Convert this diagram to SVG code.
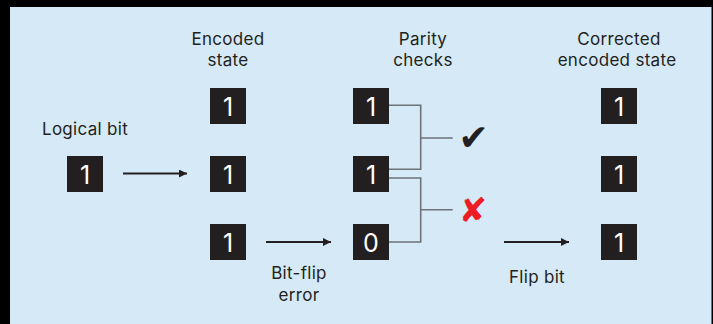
<svg xmlns="http://www.w3.org/2000/svg" width="713" height="324" viewBox="0 0 713 324">
<defs>
<style>
.lbl{font-family:Inter,"Liberation Sans",sans-serif;font-size:17px;fill:#231f20;text-anchor:middle;letter-spacing:0.3px}
.box{fill:#231f20}
.bit{font-family:Inter,"Liberation Sans",sans-serif;font-size:25px;fill:#ffffff;text-anchor:middle}
.arr{stroke:#231f20;stroke-width:2;fill:none}
.par{stroke:#6d7377;stroke-width:1.6;fill:none}
</style>
<marker id="ah" viewBox="0 0 10 10" refX="10" refY="5" markerWidth="8" markerHeight="8" markerUnits="userSpaceOnUse" orient="auto">
<path d="M0,0 L10,5 L0,10 z" fill="#231f20"/>
</marker>
</defs>
<rect x="0" y="0" width="713" height="324" fill="#000000"/>
<rect x="10" y="7" width="701.5" height="317" fill="#d6e9f6"/>

<g id="headers">
<text class="lbl" x="228" y="45">Encoded</text>
<text class="lbl" x="228" y="66">state</text>
<text class="lbl" x="423" y="45">Parity</text>
<text class="lbl" x="423" y="66">checks</text>
<text class="lbl" x="619" y="45">Corrected</text>
<text class="lbl" x="617" y="66">encoded state</text>
</g>

<g id="logical">
<text class="lbl" x="85" y="135">Logical bit</text>
<rect class="box" x="67" y="156" width="36" height="36"/>
<text class="bit" x="85" y="184">1</text>
</g>

<g id="encoded">
<rect class="box" x="210" y="88" width="36" height="36"/>
<text class="bit" x="228" y="116">1</text>
<rect class="box" x="210" y="156" width="36" height="36"/>
<text class="bit" x="228" y="184">1</text>
<rect class="box" x="210" y="224" width="36" height="36"/>
<text class="bit" x="228" y="252">1</text>
</g>

<g id="parity">
<rect class="box" x="353" y="88" width="36" height="36"/>
<text class="bit" x="371" y="116">1</text>
<rect class="box" x="353" y="156" width="36" height="36"/>
<text class="bit" x="371" y="184">1</text>
<rect class="box" x="353" y="224" width="36" height="36"/>
<text class="bit" x="371" y="252">0</text>
</g>

<g id="corrected">
<rect class="box" x="601" y="88" width="36" height="36"/>
<text class="bit" x="619" y="116">1</text>
<rect class="box" x="601" y="156" width="36" height="36"/>
<text class="bit" x="619" y="184">1</text>
<rect class="box" x="601" y="224" width="36" height="36"/>
<text class="bit" x="619" y="252">1</text>
</g>

<g id="results">
<text x="473.5" y="150" font-family="'DejaVu Sans',sans-serif" font-size="36" fill="#231f20" text-anchor="middle">✔</text>
<text x="473" y="222" font-family="'DejaVu Sans',sans-serif" font-size="34" fill="#ed1c24" text-anchor="middle">✘</text>
</g>

<g id="connectors">
<line class="arr" x1="123" y1="173.5" x2="187" y2="173.5" marker-end="url(#ah)"/>
<line class="arr" x1="266" y1="242" x2="331" y2="242" marker-end="url(#ah)"/>
<line class="arr" x1="504" y1="242" x2="569" y2="242" marker-end="url(#ah)"/>
<path class="par" d="M389,105.3 H420.7 V169.3 H389 M420.7,138 H452.7"/>
<path class="par" d="M389,178 H420.7 V242 H389 M420.7,209.7 H452.7"/>
</g>

<g id="edge-labels">
<text class="lbl" x="299" y="279">Bit-flip</text>
<text class="lbl" x="299" y="301">error</text>
<text class="lbl" x="537" y="283">Flip bit</text>
</g>
</svg>
